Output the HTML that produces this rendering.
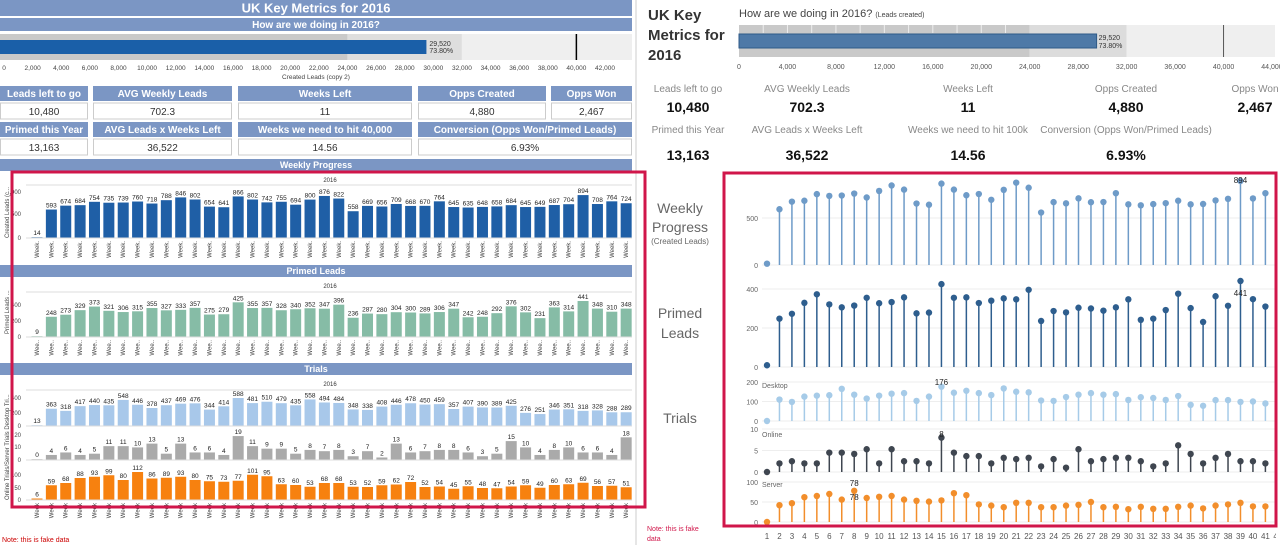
<!DOCTYPE html>
<html><head><meta charset="utf-8"><style>
body{margin:0;background:#fff;width:1280px;height:545px;overflow:hidden;font-family:"Liberation Sans",sans-serif}
svg{display:block}
</style></head><body>
<svg id="s" width="1280" height="545" viewBox="0 0 1280 545" xmlns="http://www.w3.org/2000/svg" font-family="Liberation Sans, sans-serif"></svg>
<script>
const weeks = Array.from({length:42},(_,i)=>i+1);
const weeklyLeads = [14,593,674,684,754,735,739,760,718,788,846,802,654,641,866,802,742,755,694,800,876,822,558,669,656,709,668,670,764,645,635,648,658,684,645,649,687,704,894,708,764,724];
const primedLeads = [9,248,273,329,373,321,306,315,355,327,333,357,275,279,425,355,357,328,340,352,347,396,236,287,280,304,300,289,306,347,242,248,292,376,302,231,363,314,441,348,310,348];
const desktopTrials = [13,363,318,417,440,435,548,446,378,437,469,476,344,414,588,481,510,479,435,558,494,484,348,338,408,446,478,450,459,357,407,390,389,425,276,251,346,351,318,328,288,289];
const onlineTrials = [0,4,6,4,5,11,11,10,13,5,13,6,6,4,19,11,9,9,5,8,7,8,3,7,2,13,6,7,8,8,6,3,5,15,10,4,8,10,6,6,4,18];
const serverTrials = [6,59,68,88,93,99,80,112,86,89,93,80,75,73,77,101,95,63,60,53,68,68,53,52,59,62,72,52,54,45,55,48,47,54,59,49,60,63,69,56,57,51];
const rDesktop = [0,110,98,125,130,132,165,135,115,130,140,143,103,125,176,145,155,143,133,167,150,147,105,103,123,135,143,135,138,108,122,118,108,128,83,78,107,107,98,100,90,95];
const rOnline = [0,2,2.5,2,2,4.5,4.5,4.2,5.3,2,5.3,2.5,2.5,2,8,4.5,3.7,3.7,2,3.3,3,3.3,1.3,3,1,5.3,2.5,3,3.3,3.3,2.5,1.3,2,6.2,4.2,2,3.3,4.2,2.5,2.5,2,7.5];
const rServer = [0,42,47,62,65,70,56,78,60,63,65,56,53,51,54,72,67,44,41,37,48,48,37,37,41,43,50,37,38,32,38,33,33,38,41,34,41,44,48,39,39,36];
const bulletTicks = [0,2000,4000,6000,8000,10000,12000,14000,16000,18000,20000,22000,24000,26000,28000,30000,32000,34000,36000,38000,40000,42000];
const rBulletTicks = [0,4000,8000,12000,16000,20000,24000,28000,32000,36000,40000,44000];
const createdTotal = 29520, target = 40000;

const S=document.getElementById('s');const NS='http://www.w3.org/2000/svg';
function el(t,a,txt,parent){const e=document.createElementNS(NS,t);for(const k in a)e.setAttribute(k,a[k]);if(txt!==undefined)e.textContent=txt;(parent||S).appendChild(e);return e;}
function named(e,n){return e;}
const HB='#7b96c4';
function header(x,y,w,h,txt,fs,n){const g=el('g',{});
 el('rect',{x,y,width:w,height:h,fill:HB},undefined,g);el('text',{x:x+w/2,y:y+h/2+fs*0.36,'text-anchor':'middle','font-size':fs,'font-weight':'bold',fill:'#fff'},txt,g);}

/* LEFT PANEL */
el('line',{x1:636,y1:0,x2:636,y2:545,stroke:'#ccc'});
header(0,0,632,16,'UK Key Metrics for 2016',13,'left-title');
header(0,18,632,13,'How are we doing in 2016?',10,'left-subtitle');
const bx=v=>4+v*(601/42000);
named(el('rect',{x:0,y:34,width:bx(24000),height:26,fill:'#c9c9c9'}),'band-poor');
named(el('rect',{x:bx(24000),y:34,width:bx(32000)-bx(24000),height:26,fill:'#dedede'}),'band-ok');
named(el('rect',{x:bx(32000),y:34,width:632-bx(32000),height:26,fill:'#efefef'}),'band-good');
named(el('rect',{x:0,y:40,width:bx(createdTotal),height:14,fill:'#1a5fa8'}),'created-leads-bar');
named(el('line',{x1:bx(target),y1:34,x2:bx(target),y2:60,stroke:'#000','stroke-width':1.5}),'target-line');
el('text',{x:bx(createdTotal)+3,y:46,'font-size':7,fill:'#333'},'29,520');
el('text',{x:bx(createdTotal)+3,y:53,'font-size':7,fill:'#333'},'73.80%');
bulletTicks.forEach(t=>{el('text',{x:bx(t),y:70,'font-size':6.5,'text-anchor':'middle',fill:'#444'},t.toLocaleString('en-US'));});
el('text',{x:316,y:79,'font-size':6.5,'text-anchor':'middle',fill:'#444'},'Created Leads (copy 2)');
const kpis=[[0,88,86,'Leads left to go','10,480'],[93,139,86,'AVG Weekly Leads','702.3'],[238,174,86,'Weeks Left','11'],[418,128,86,'Opps Created','4,880'],[551,81,86,'Opps Won','2,467'],
[0,88,122,'Primed this Year','13,163'],[93,139,122,'AVG Leads x Weeks Left','36,522'],[238,174,122,'Weeks we need to hit 40,000','14.56'],[418,214,122,'Conversion (Opps Won/Primed Leads)','6.93%']];
kpis.forEach((k,i)=>{header(k[0],k[2],k[1],15,k[3],10,'kpi-header-'+i);
 named(el('rect',{x:k[0]+0.5,y:k[2]+17,width:k[1]-1,height:16,fill:'#fff',stroke:'#ccc'}),'kpi-box-'+i);
 named(el('text',{x:k[0]+k[1]/2,y:k[2]+29,'font-size':10,'text-anchor':'middle',fill:'#333'},k[4]),'kpi-value-'+i);});
header(0,159,632,12,'Weekly Progress',9,'weekly-progress-header');
header(0,265,632,12,'Primed Leads',9,'primed-leads-header');
header(0,363,632,12,'Trials',9,'trials-header');
const lx=i=>37+i*14.37;
function barChart(vals,base,k,color,name,labelFs){vals.forEach((v,i)=>{const h=Math.max(v*k,0.8);
 const r=el('rect',{x:lx(i)-5.5,y:base-h,width:11,height:h,fill:color});
 el('text',{x:lx(i),y:base-h-2,'font-size':labelFs,'text-anchor':'middle',fill:'#222'},String(v));});
 el('line',{x1:26,y1:base,x2:632,y2:base,stroke:'#ddd'});}
el('text',{x:330,y:182,'font-size':6,'text-anchor':'middle',fill:'#333'},'2016');
el('line',{x1:26,y1:185,x2:632,y2:185,stroke:'#ddd'});
barChart(weeklyLeads,238,0.048,'#1f5fa6','weekly',6.5);
el('text',{x:21,y:240,'font-size':6,'text-anchor':'end',fill:'#444'},'0');el('text',{x:21,y:216,'font-size':6,'text-anchor':'end',fill:'#444'},'500');el('text',{x:21,y:194,'font-size':6,'text-anchor':'end',fill:'#444'},',000');
el('text',{x:0,y:0,'font-size':6,fill:'#444',transform:'translate(9,238) rotate(-90)'},'Created Leads (c...');
el('text',{x:330,y:288,'font-size':6,'text-anchor':'middle',fill:'#333'},'2016');
el('line',{x1:26,y1:292,x2:632,y2:292,stroke:'#ddd'});
barChart(primedLeads,337,0.0816,'#86bca6','primed',6.5);
el('text',{x:21,y:339,'font-size':6,'text-anchor':'end',fill:'#444'},'0');el('text',{x:21,y:323,'font-size':6,'text-anchor':'end',fill:'#444'},'200');el('text',{x:21,y:307,'font-size':6,'text-anchor':'end',fill:'#444'},'400');
el('text',{x:0,y:0,'font-size':6,fill:'#444',transform:'translate(9,334) rotate(-90)'},'Primed Leads ...');
el('text',{x:330,y:386,'font-size':6,'text-anchor':'middle',fill:'#333'},'2016');
el('line',{x1:26,y1:390,x2:632,y2:390,stroke:'#ddd'});
barChart(desktopTrials,426,0.0476,'#a8c8ea','desktop',6.5);
barChart(onlineTrials,460,1.26,'#aaaaaa','online',6.5);
barChart(serverTrials,500,0.25,'#f7810f','server',6.5);
[[428,'0'],[415,'200'],[400,'400'],[462,'0'],[449,'10'],[437,'20'],[502,'0'],[490,'50'],[477,'100']].forEach(t=>el('text',{x:21,y:t[0],'font-size':6,'text-anchor':'end',fill:'#444'},t[1]));
el('text',{x:0,y:0,'font-size':6,fill:'#444',transform:'translate(9,500) rotate(-90)'},'Online Trials/Server Trials Desktop Tri...');
function weekLabels(y,txt){weeks.forEach((w,i)=>el('text',{x:0,y:0,'font-size':6,fill:'#444','text-anchor':'end',transform:`translate(${lx(i)+2},${y}) rotate(-90)`},txt));}
weekLabels(241,'Week.');weekLabels(340,'Wee..');weekLabels(503,'Week');
el('text',{x:2,y:542,'font-size':7,fill:'#c00'},'Note: this is fake data');
named(el('rect',{x:12,y:172,width:633,height:335,fill:'none',stroke:'#d0164a','stroke-width':3}),'left-highlight-box');

/* RIGHT PANEL */
['UK Key','Metrics for','2016'].forEach((t,i)=>el('text',{x:648,y:20+i*20,'font-size':15,'font-weight':'bold',fill:'#333'},t));
const t1=el('text',{x:739,y:17,'font-size':11,fill:'#444'},'How are we doing in 2016? ');el('tspan',{'font-size':7},'(Leads created)',t1);
const rx=v=>739+v*(533/44000);
named(el('rect',{x:739,y:25,width:rx(24000)-739,height:32,fill:'#c9c9c9'}),'r-band-poor');
named(el('rect',{x:rx(24000),y:25,width:rx(32000)-rx(24000),height:32,fill:'#dcdcdc'}),'r-band-ok');
named(el('rect',{x:rx(32000),y:25,width:1275-rx(32000),height:32,fill:'#efefef'}),'r-band-good');
for(let v=2000;v<24000;v+=2000)el('line',{x1:rx(v),y1:25,x2:rx(v),y2:33,stroke:'#eee'});
named(el('rect',{x:739,y:34,width:rx(createdTotal)-739,height:14,fill:'#4e79a7',stroke:'#2f5a88'}),'r-created-leads-bar');
named(el('line',{x1:rx(target),y1:25,x2:rx(target),y2:57,stroke:'#555'}),'r-target-line');
el('text',{x:rx(createdTotal)+2,y:40,'font-size':7,fill:'#333'},'29,520');el('text',{x:rx(createdTotal)+2,y:48,'font-size':7,fill:'#333'},'73.80%');
rBulletTicks.forEach(t=>el('text',{x:rx(t),y:69,'font-size':7,'text-anchor':'middle',fill:'#555'},t.toLocaleString('en-US')));
const rk=[[688,'Leads left to go','10,480',92,112],[807,'AVG Weekly Leads','702.3',92,112],[968,'Weeks Left','11',92,112],[1126,'Opps Created','4,880',92,112],[1255,'Opps Won','2,467',92,112],
[688,'Primed this Year','13,163',133,160],[807,'AVG Leads x Weeks Left','36,522',133,160],[968,'Weeks we need to hit 100k','14.56',133,160],[1126,'Conversion (Opps Won/Primed Leads)','6.93%',133,160]];
rk.forEach((k,i)=>{named(el('text',{x:k[0],y:k[3],'font-size':10,'text-anchor':'middle',fill:'#888'},k[1]),'r-kpi-label-'+i);
 named(el('text',{x:k[0],y:k[4],'font-size':14,'font-weight':'bold','text-anchor':'middle',fill:'#111'},k[2]),'r-kpi-value-'+i);});
el('text',{x:680,y:213,'font-size':14,'text-anchor':'middle',fill:'#666'},'Weekly');el('text',{x:680,y:232,'font-size':14,'text-anchor':'middle',fill:'#666'},'Progress');
el('text',{x:680,y:244,'font-size':8,'text-anchor':'middle',fill:'#666'},'(Created Leads)');
el('text',{x:680,y:318,'font-size':14,'text-anchor':'middle',fill:'#666'},'Primed');el('text',{x:680,y:338,'font-size':14,'text-anchor':'middle',fill:'#666'},'Leads');
el('text',{x:680,y:423,'font-size':14,'text-anchor':'middle',fill:'#666'},'Trials');
el('text',{x:647,y:531,'font-size':7,fill:'#d0164a'},'Note: this is fake');el('text',{x:647,y:541,'font-size':7,fill:'#d0164a'},'data');
const px=i=>767+i*12.46;
const clip=el('clipPath',{id:'rc'});el('rect',{x:725,y:170,width:551,height:375},undefined,clip);
const G=el('g',{'clip-path':'url(#rc)'});
function lolli(vals,base,k,color,name,ticks,top){ticks.forEach(t=>{el('line',{x1:762,y1:base-t*k,x2:1276,y2:base-t*k,stroke:'#eee'},undefined,G);
 el('text',{x:758,y:base-t*k+3,'font-size':7,'text-anchor':'end',fill:'#666'},String(t),G);});
 vals.forEach((v,i)=>{const y=base-v*k;el('line',{x1:px(i),y1:base,x2:px(i),y2:y,stroke:color,'stroke-width':1.5},undefined,G);
  const c=el('circle',{cx:px(i),cy:y,r:3.2,fill:color},undefined,G);});}
lolli(weeklyLeads,265,0.094,'#6e9bc8','r-weekly',[0,500]);
lolli(primedLeads,367,0.195,'#2e5e8e','r-primed',[0,200,400]);
lolli(rDesktop,421,0.195,'#a6cbe8','r-desktop',[0,100,200]);
lolli(rOnline,472,4.3,'#3f4650','r-online',[0,5,10]);
lolli(rServer,522,0.4,'#f28e2b','r-server',[0,50,100]);
el('text',{x:762,y:388,'font-size':7,fill:'#666'},'Desktop');el('text',{x:762,y:437,'font-size':7,fill:'#666'},'Online');el('text',{x:762,y:487,'font-size':7,fill:'#666'},'Server');
el('text',{x:px(38),y:183,'font-size':8,'text-anchor':'middle',fill:'#222'},'894');
el('text',{x:px(38),y:296,'font-size':8,'text-anchor':'middle',fill:'#222'},'441');
el('text',{x:px(14),y:385,'font-size':8,'text-anchor':'middle',fill:'#222'},'176');
el('text',{x:px(14),y:437,'font-size':8,'text-anchor':'middle',fill:'#222'},'8');
el('text',{x:px(7),y:486,'font-size':8,'text-anchor':'middle',fill:'#222'},'78');el('text',{x:px(7),y:500,'font-size':8,'text-anchor':'middle',fill:'#222'},'78');
weeks.forEach((w,i)=>el('text',{x:px(i),y:539,'font-size':8,'text-anchor':'middle',fill:'#555'},String(w),G));
named(el('rect',{x:724,y:173,width:552,height:353,fill:'none',stroke:'#d0164a','stroke-width':3}),'right-highlight-box');
</script>
</body></html>
